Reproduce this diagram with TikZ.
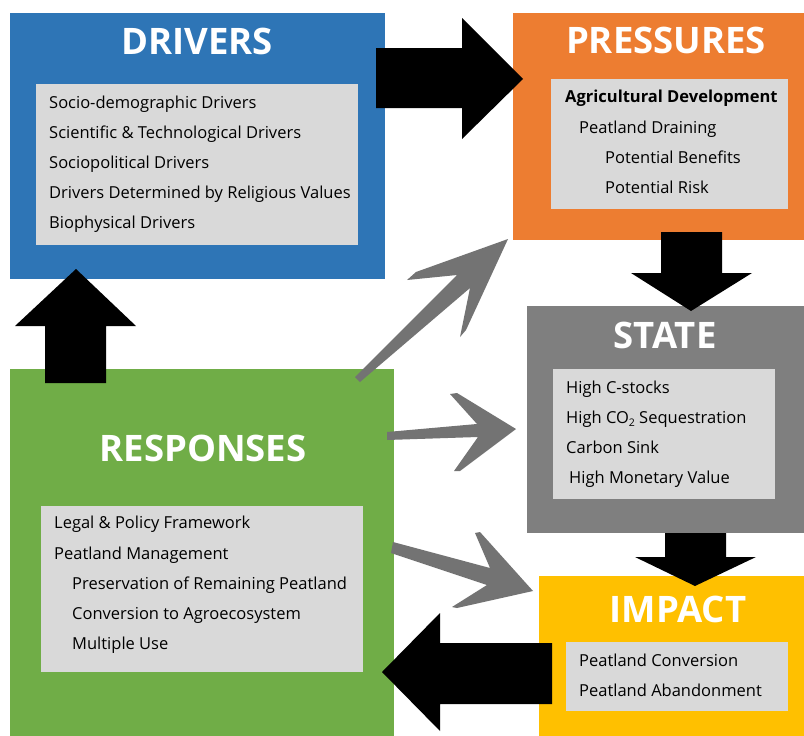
\documentclass[tikz,border=0pt]{standalone}
\usepackage{fontspec}
\setmainfont{Open Sans}
\definecolor{cblue}{HTML}{2E75B6}
\definecolor{corange}{HTML}{ED7D31}
\definecolor{cgray}{HTML}{7F7F7F}
\definecolor{cgreen}{HTML}{70AD47}
\definecolor{cgold}{HTML}{FFC000}
\definecolor{cinner}{HTML}{D9D9D9}
\definecolor{carrow}{HTML}{737373}
\begin{document}
\begin{tikzpicture}[x=1pt,y=-1pt,
  panel/.style={inner sep=0pt, outer sep=0pt},
  inbox/.style={fill=cinner, inner sep=0pt, outer sep=0pt},
  ttl/.style={anchor=base, text=white, font=\fontsize{36.5}{40}\selectfont\bfseries, inner sep=0pt},
  itm/.style={anchor=base west, font=\fontsize{16.5}{19}\selectfont, inner sep=0pt},
  blk/.style={fill=black},
  gry/.style={fill=carrow}]
\useasboundingbox (0,0) rectangle (804,736);
\fill[white] (0,0) rectangle (804,736);
% panels
\node[panel, fill=cblue, minimum width=375pt, minimum height=266pt] (drv) at (197.5,146) {};
\node[inbox, minimum width=322pt, minimum height=161pt] (drvin) at (197,164.5) {};
\node[panel, fill=corange, minimum width=291pt, minimum height=227pt] (prs) at (658.5,126.5) {};
\node[inbox, minimum width=237pt, minimum height=130pt] (prsin) at (669.5,144) {};
\node[panel, fill=cgray, minimum width=277pt, minimum height=227pt] (st) at (665.5,419.5) {};
\node[inbox, minimum width=222pt, minimum height=130pt] (stin) at (664,434) {};
\node[panel, fill=cgold, minimum width=265pt, minimum height=160pt] (imp) at (671.5,656) {};
\node[inbox, minimum width=222pt, minimum height=69pt] (impin) at (677,676.5) {};
\node[panel, fill=cgreen, minimum width=384pt, minimum height=367pt] (rsp) at (202,552.5) {};
\node[inbox, minimum width=322pt, minimum height=166pt] (rspin) at (202,589) {};
% titles
\node[ttl] (tdrv) at (197,54) {DRIVERS};
\node[ttl] (tprs) at (666,53) {PRESSURES};
\node[ttl] (tst) at (665,348) {STATE};
\node[ttl] (timp) at (678,622) {IMPACT};
\node[ttl] (trsp) at (203,461) {RESPONSES};
% drivers items
\node[itm] (d1) at (49,108) {Socio-demographic Drivers};
\node[itm] (d2) at (49,138) {Scientific \& Technological Drivers};
\node[itm] (d3) at (49,168) {Sociopolitical Drivers};
\node[itm] (d4) at (49,198) {Drivers Determined by Religious Values};
\node[itm] (d5) at (49,228) {Biophysical Drivers};
% pressures items
\node[itm, font=\fontsize{16.5}{19}\selectfont\bfseries] (p1) at (565,102) {Agricultural Development};
\node[itm] (p2) at (579,133) {Peatland Draining};
\node[itm] (p3) at (605,163) {Potential Benefits};
\node[itm] (p4) at (605,193) {Potential Risk};
% state items
\node[itm] (s1) at (566,393) {High C-stocks};
\node[itm] (s2) at (566,423) {High CO\raisebox{-3.5pt}{\fontsize{10.5}{11}\selectfont 2} Sequestration};
\node[itm] (s3) at (566,453) {Carbon Sink};
\node[itm] (s4) at (569,483) {High Monetary Value};
% impact items
\node[itm] (i1) at (579,666) {Peatland Conversion};
\node[itm] (i2) at (579,696) {Peatland Abandonment};
% responses items
\node[itm] (r1) at (54,528) {Legal \& Policy Framework};
\node[itm] (r2) at (54,559) {Peatland Management};
\node[itm] (r3) at (72,589) {Preservation of Remaining Peatland};
\node[itm] (r4) at (72,619) {Conversion to Agroecosystem};
\node[itm] (r5) at (72,649) {Multiple Use};
% black block arrows
\fill[blk] (376,48)--(462,48)--(462,18)--(523,79)--(462,139)--(462,108)--(376,108)--cycle;
\fill[blk] (661,232)--(722,232)--(722,273)--(752,273)--(691,311)--(631,273)--(661,273)--cycle;
\fill[blk] (665,533)--(726,533)--(726,557)--(756,557)--(695,586)--(635,557)--(665,557)--cycle;
\fill[blk] (552,643)--(440,643)--(440,613)--(382,672)--(440,731)--(440,704)--(552,704)--cycle;
\fill[blk] (45,383)--(45,326)--(15,326)--(76,269)--(136,326)--(106,326)--(106,383)--cycle;
% grey barbed arrows
\fill[gry] (508,239)--(416,272)--(407,280)--(457,275)--(355,377)--(360,382)--(470,288)--(460,337)--(466,330)--cycle;
\fill[gry] (387,432)--(477,424)--(450,394)--(457,393)--(516,429)--(460,471)--(454,471)--(478,437)--(387,440)--cycle;
\fill[gry] (393,542)--(490,568)--(475,533)--(480,532)--(533,591)--(457,608)--(452,607)--(487,585)--(391,553)--cycle;
\end{tikzpicture}
\end{document}
